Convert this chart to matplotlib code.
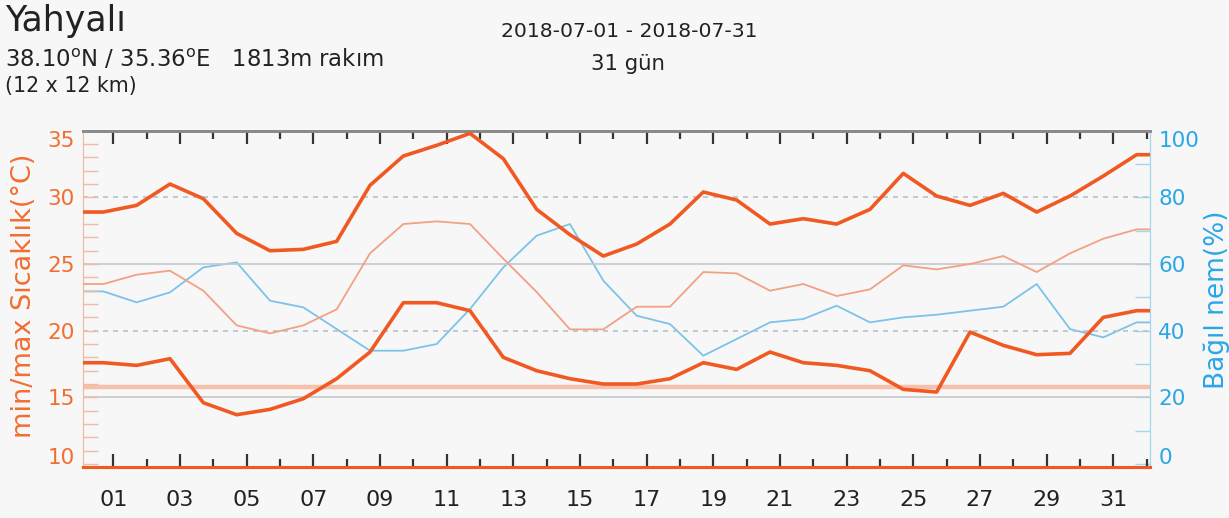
import numpy as np
import matplotlib
matplotlib.use("Agg")
import matplotlib.pyplot as plt
from matplotlib.ticker import FixedLocator

# veriler (gunluk degerler)
days = np.arange(1, 33)
t_max = [28.9, 29.4, 31.0, 29.9, 27.3, 26.0, 26.1, 26.7, 30.9, 33.1, 33.9, 34.8,
         32.9, 29.1, 27.2, 25.6, 26.5, 28.0, 30.4, 29.8, 28.0, 28.4, 28.0, 29.1,
         31.8, 30.1, 29.4, 30.3, 28.9, 30.1, 31.6, 33.2]
t_mean = [23.5, 24.2, 24.5, 23.0, 20.4, 19.8, 20.4, 21.6, 25.8, 28.0, 28.2, 28.0,
          25.4, 22.9, 20.1, 20.1, 21.8, 21.8, 24.4, 24.3, 23.0, 23.5, 22.6, 23.1,
          24.9, 24.6, 25.0, 25.6, 24.4, 25.8, 26.9, 27.6]
t_min = [17.6, 17.4, 17.9, 14.6, 13.7, 14.1, 14.9, 16.4, 18.4, 22.1, 22.1, 21.5,
         18.0, 17.0, 16.4, 16.0, 16.0, 16.4, 17.6, 17.1, 18.4, 17.6, 17.4, 17.0,
         15.6, 15.4, 19.9, 18.9, 18.2, 18.3, 21.0, 21.5]
humidity = [51.8, 48.5, 51.5, 59.0, 60.5, 49.0, 47.0, 40.5, 34.0, 34.0, 36.0, 46.5,
            59.0, 68.5, 72.0, 55.0, 44.5, 42.0, 32.5, 37.5, 42.5, 43.5, 47.5, 42.5,
            44.0, 44.8, 46.0, 47.2, 54.0, 40.5, 38.0, 42.5]
ref_temp = 15.8
tick_days = np.arange(1, 32, 2)
minor_days = np.arange(2, 33, 2)
tick_labels = [f"{d:02d}" for d in tick_days]
temp_ticks = [10, 15, 20, 25, 30, 35]
hum_ticks = [0, 20, 40, 60, 80, 100]

ORANGE = "#f05a22"
SALMON = "#f2a183"
BLUE = "#7cc3ea"
LBL_OR = "#f26d31"
LBL_BL = "#2aa6e6"
BG = "#f7f7f7"
TXT = "#222222"
TICK = "#333333"

plt.rcParams["font.family"] = ["DejaVu Sans"]

fig = plt.figure(figsize=(12.29, 5.18), dpi=100, facecolor=BG)
ax = fig.add_axes([0.0678, 0.099, 0.8679, 0.6487])
ax2 = ax.twinx()
ax.set_zorder(ax2.get_zorder() + 1)
ax.patch.set_visible(False)

x = days - 0.3
ax.set_xlim(0.1, 32.1)
ax.set_ylim(9.8, 35)
ax2.set_ylim(-0.8, 100)

# yatay cizgiler
ax.axhline(30, color="#b7c2cc", lw=1.2, ls=(0, (3, 3)), zorder=1)
ax.axhline(20, color="#b7c2cc", lw=1.2, ls=(0, (3, 3)), zorder=1)
ax.axhline(25, color="#c5c8cc", lw=1.2, zorder=1)
ax.axhline(15, color="#c5c8cc", lw=1.2, zorder=1)
ax.axhline(ref_temp, color="#f6c0ab", lw=3.2, zorder=1)


# seriler (kenarlara kadar yatay uzat)
def ext(v):
    return np.r_[v[0], v, v[-1]]


xe = np.r_[0.1, x, 32.1]
ax2.plot(xe, ext(humidity), color=BLUE, lw=1.3)
ax.plot(xe, ext(t_mean), color=SALMON, lw=1.3, zorder=3)
ax.plot(xe, ext(t_max), color=ORANGE, lw=2.6, zorder=4)
ax.plot(xe, ext(t_min), color=ORANGE, lw=2.6, zorder=4)

# x ekseni
ax.xaxis.set_ticks_position("both")
ax.xaxis.set_major_locator(FixedLocator(tick_days))
ax.xaxis.set_minor_locator(FixedLocator(minor_days))
ax.set_xticklabels(tick_labels)
ax.tick_params(axis="x", which="both", direction="in", top=True, bottom=True,
               color=TICK, labelsize=16, pad=17, labelcolor=TXT)
ax.tick_params(axis="x", which="major", length=9.5, width=1.6)
ax.tick_params(axis="x", which="minor", length=5.5, width=1.6)

# sol eksen
ax.yaxis.set_major_locator(FixedLocator(temp_ticks))
ax.yaxis.set_minor_locator(FixedLocator(np.arange(10, 36)))
ax.tick_params(axis="y", which="both", direction="in", length=10.5, width=1,
               color="#f4b9a2", labelcolor=LBL_OR, labelsize=15.5, pad=6)
ax.set_ylabel("min/max Sıcaklık(°C)", color=LBL_OR, fontsize=19.5)
ax.yaxis.set_label_coords(-0.043, 0.508)

# sag eksen
ax2.yaxis.set_major_locator(FixedLocator(hum_ticks))
ax2.yaxis.set_minor_locator(FixedLocator(np.arange(0, 101, 10)))
ax2.tick_params(axis="y", which="both", direction="in", length=10.5, width=1,
                color="#a3d5f1", labelcolor=LBL_BL, labelsize=15.5, pad=6)
ax2.set_ylabel("Bağıl nem(%)", color=LBL_BL, fontsize=19)
ax2.yaxis.set_label_coords(1.05, 0.496)

# uc etiketleri eksen icinde kalsin
for a in (ax, ax2):
    ticks = a.yaxis.get_major_ticks()
    for t in ticks:
        t.label1.set_va("center_baseline")
        t.label2.set_va("center_baseline")
    ticks[0].label1.set_va("baseline")
    ticks[0].label2.set_va("baseline")
    ticks[-1].label1.set_va("top")
    ticks[-1].label2.set_va("top")

for a in (ax, ax2):
    a.spines["bottom"].set_color(ORANGE)
    a.spines["bottom"].set_linewidth(2.2)
    a.spines["top"].set_color("#8a8a8a")
    a.spines["top"].set_linewidth(2)
    a.spines["top"].set_linestyle((0, (2, 1)))
    a.spines["left"].set_color("#f4b9a2")
    a.spines["right"].set_color("#a3d5f1")

# basliklar
fig.text(0.004, 0.940, "Yahyalı", fontsize=25, color=TXT, va="baseline")
fig.text(0.004, 0.871, "38.10$^{\\mathrm{o}}$N / 35.36$^{\\mathrm{o}}$E   1813m rakım",
         fontsize=16.4, color=TXT, va="baseline")
fig.text(0.004, 0.823, "(12 x 12 km)", fontsize=14.8, color=TXT, va="baseline")
fig.text(0.512, 0.929, "2018-07-01 - 2018-07-31", fontsize=14.7, color=TXT,
         ha="center", va="baseline")
fig.text(0.511, 0.865, "31 gün", fontsize=15.3, color=TXT, ha="center", va="baseline")

fig.savefig("out.png", dpi=100, facecolor=BG)
